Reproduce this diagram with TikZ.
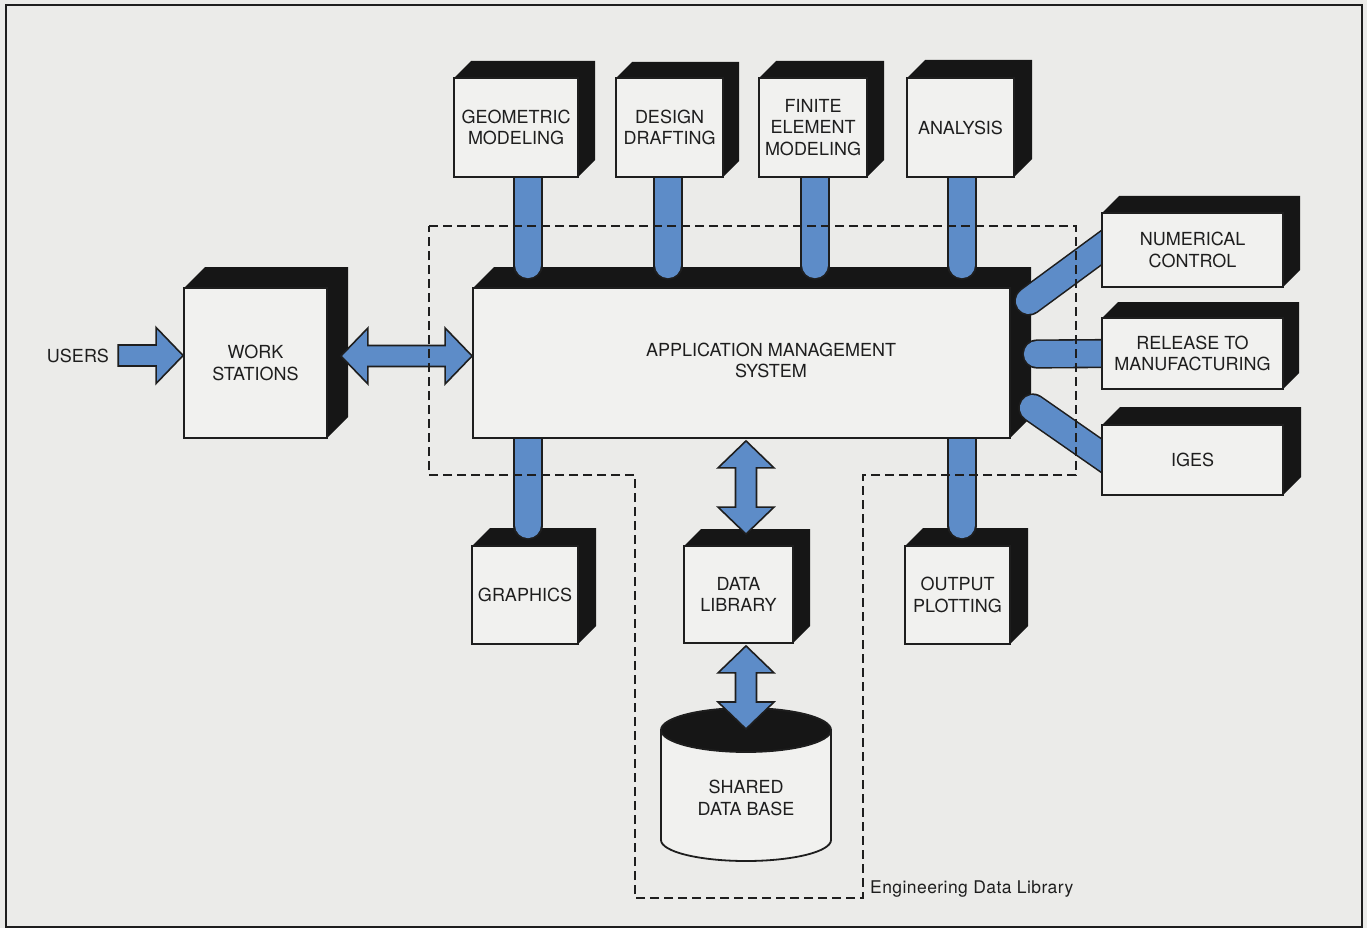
\documentclass[tikz,border=0pt]{standalone}
\usepackage{fontspec}
\setmainfont{TeX Gyre Heros}
\usetikzlibrary{calc}
\pgfdeclarelayer{bg}\pgfdeclarelayer{la}\pgfdeclarelayer{lb}\pgfdeclarelayer{lc}\pgfdeclarelayer{ld}
\pgfsetlayers{bg,la,lb,lc,ld,main}
\definecolor{paper}{HTML}{EBEBE9}
\definecolor{face}{HTML}{F1F1EF}
\definecolor{pipe}{HTML}{5D8CC8}
\definecolor{ink}{HTML}{1E1E1E}
\definecolor{extr}{HTML}{161616}
\tikzset{
 box/.style={draw=ink, line width=1.8pt, fill=face, inner sep=0pt, align=center, text=ink, font=\fontsize{18}{21.5}\selectfont},
 extrusion/.style={fill=extr},
 tube/.style={draw=ink, line width=1.6pt, double=pipe, double distance=26pt, line cap=round},
 blockarrow/.style={fill=pipe, draw=ink, line width=1.6pt, line join=miter},
 boundary/.style={draw=ink, line width=1.9pt, dash pattern=on 9pt off 5pt},
 lbl/.style={text=ink, inner sep=0pt, font=\fontsize{18}{21.5}\selectfont, align=center},
}
% 3D box: name, x1, y1, x2, y2 (front face), depth, text
\newcommand\cube[7]{%
 \fill[extrusion] (#2,#3) -- ({#2+#6},{#3-#6}) -- ({#4+#6},{#3-#6}) -- ({#4+#6},{#5-#6}) -- (#4,#5) -- (#2,#5) -- cycle;
 \node[box, minimum width={#4pt-#2pt}, minimum height={#5pt-#3pt}] (#1) at ({(#2+#4)/2},{(#3+#5)/2}) {#7};}
\newcommand\harrowblk[2]{%
 \filldraw[blockarrow] let \p1=(#1), \p2=(#2) in
 ({\x1},{\y1+10.5pt}) -- ({\x2-27pt},{\y1+10.5pt}) -- ({\x2-27pt},{\y1+28pt}) -- (\x2,\y1) -- ({\x2-27pt},{\y1-28pt}) -- ({\x2-27pt},{\y1-10.5pt}) -- ({\x1},{\y1-10.5pt}) -- cycle;}
\newcommand\hdarrowblk[2]{%
 \filldraw[blockarrow] let \p1=(#1), \p2=(#2) in
 (\p1) -- ({\x1+27pt},{\y1+28pt}) -- ({\x1+27pt},{\y1+10.5pt}) -- ({\x2-27pt},{\y1+10.5pt}) -- ({\x2-27pt},{\y1+28pt}) -- (\x2,\y1) -- ({\x2-27pt},{\y1-28pt}) -- ({\x2-27pt},{\y1-10.5pt}) -- ({\x1+27pt},{\y1-10.5pt}) -- ({\x1+27pt},{\y1-28pt}) -- cycle;}
\newcommand\vdarrowblk[2]{%
 \filldraw[blockarrow] let \p1=(#1), \p2=(#2) in
 (\p1) -- ({\x1+28pt},{\y1-27pt}) -- ({\x1+10.5pt},{\y1-27pt}) -- ({\x1+10.5pt},{\y2+27pt}) -- ({\x1+28pt},{\y2+27pt}) -- (\x1,\y2) -- ({\x1-28pt},{\y2+27pt}) -- ({\x1-10.5pt},{\y2+27pt}) -- ({\x1-10.5pt},{\y1-27pt}) -- ({\x1-28pt},{\y1-27pt}) -- cycle;}
\begin{document}
\begin{tikzpicture}[x=1pt,y=-1pt]
\useasboundingbox (0,0) rectangle (1367,928);
\begin{pgfonlayer}{bg}
 \fill[paper] (0,0) rectangle (1367,928);
 \draw[ink, line width=1.6pt] (6,5) rectangle (1362,927);
\end{pgfonlayer}
% lower boxes and data base
\begin{pgfonlayer}{la}
 \cube{grp}{472}{546}{578}{644}{18}{GRAPHICS}
 \cube{dl}{684}{546}{793}{643}{17}{DATA\\LIBRARY}
 \cube{out}{905}{546}{1010}{644}{18}{OUTPUT\\PLOTTING}
 \coordinate (dbtop) at (746,730);
 \filldraw[fill=face, draw=ink, line width=1.8pt] (661,730) -- (661,840) arc[start angle=180, end angle=0, x radius=85, y radius=21] -- (831,730) -- cycle;
 \filldraw[fill=extr, draw=ink, line width=1.8pt] (dbtop) ellipse[x radius=85, y radius=22];
 \node[lbl] (db) at (746,798) {SHARED\\DATA BASE};
\end{pgfonlayer}
% central box
\begin{pgfonlayer}{lc}
 \cube{ams}{473}{288}{1010}{438}{21}{}
 \node[lbl] (amstext) at (771,360.5) {APPLICATION MANAGEMENT\\SYSTEM};
\end{pgfonlayer}
% upper, left and right boxes
\cube{geo}{454}{78}{578}{177}{17}{GEOMETRIC\\MODELING}
\cube{des}{616}{78}{723}{177}{16}{DESIGN\\DRAFTING}
\cube{fin}{759}{78}{867}{177}{17}{FINITE\\ELEMENT\\MODELING}
\cube{ana}{907}{78}{1014}{177}{18}{ANALYSIS}
\cube{ws}{184}{288}{327}{438}{21}{WORK\\STATIONS}
\cube{nc}{1102}{213}{1283}{287}{17}{NUMERICAL\\CONTROL}
\cube{rel}{1102}{318}{1283}{389}{16}{RELEASE TO\\MANUFACTURING}
\cube{iges}{1102}{425}{1283}{495}{18}{IGES}
% tubes below the central box
\begin{pgfonlayer}{lb}
 \draw[tube] ($(ams.south -| grp.north)+(3,-8)$) -- ($(grp.north)+(3,-20)$);
 \draw[tube] ($(ams.south -| out.north)+(4.5,-8)$) -- ($(out.north)+(4.5,-20)$);
\end{pgfonlayer}
% tubes above the central box
\begin{pgfonlayer}{ld}
 \draw[tube] ($(geo.south)+(12,-10)$) -- ($(geo.south |- ams.north)+(12,-22)$);
 \draw[tube] ($(des.south)+(-1.5,-10)$) -- ($(des.south |- ams.north)+(-1.5,-22)$);
 \draw[tube] ($(fin.south)+(2,-10)$) -- ($(fin.south |- ams.north)+(2,-22)$);
 \draw[tube] ($(ana.south)+(1.5,-10)$) -- ($(ana.south |- ams.north)+(1.5,-22)$);
 \draw[tube] ($(ams.east)+(18,-62)$) -- ($(nc.west)+(8,-8)$);
 \draw[tube] ($(ams.east)+(26,-9)$) -- ($(rel.west)+(8,0)$);
 \draw[tube] ($(ams.east)+(22,45)$) -- ($(iges.west)+(8,1)$);
\end{pgfonlayer}
% labels
\node[lbl] (users) at (78,355.5) {USERS};
\node[lbl, anchor=west, font=\fontsize{17.5}{20}\selectfont\addfontfeature{LetterSpace=2.5}] (edl) at (870,889) {Engineering Data Library};
% block arrows
\coordinate (u1) at ($(users.east)+(9,0)$);
\harrowblk{u1}{ws.west |- u1}
\coordinate (w1) at ($(ws.east)+(13,-7)$);
\hdarrowblk{w1}{ams.west |- w1}
\coordinate (a1) at ($(ams.south -| dl.north)+(7.5,2)$);
\coordinate (a2) at ($(dl.north)+(7.5,-11)$);
\vdarrowblk{a1}{a2}
\coordinate (b1) at ($(dl.south)+(7.5,2)$);
\coordinate (b2) at ($(dbtop)+(0,-1)$);
\vdarrowblk{b1}{b2}
% engineering data library boundary
\draw[boundary] (429,226) -- (1076,226) -- (1076,475) -- (863,475) -- (863,898) -- (635,898) -- (635,475) -- (429,475) -- cycle;
\end{tikzpicture}
\end{document}
